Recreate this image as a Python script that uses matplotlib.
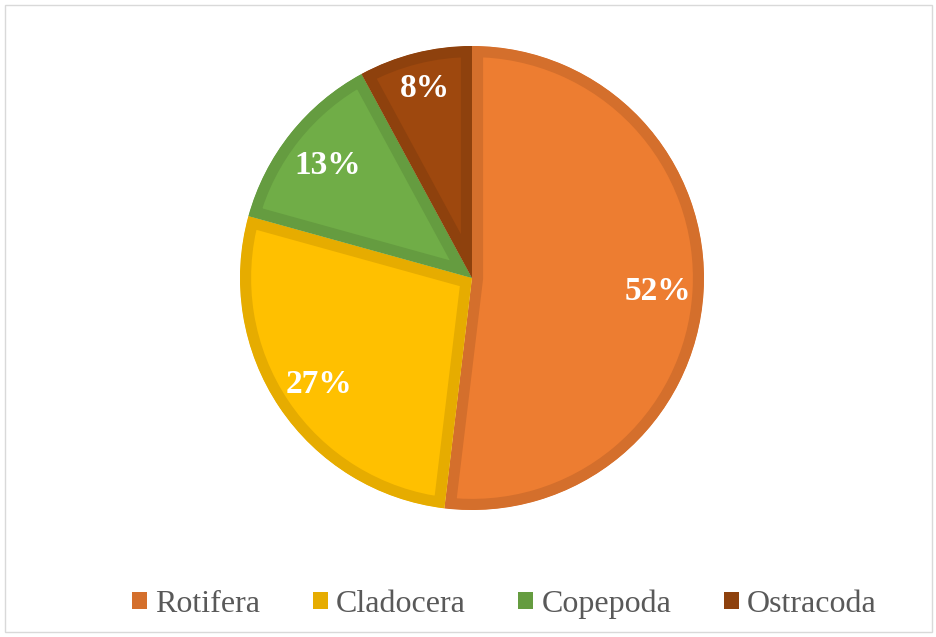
import matplotlib.pyplot as plt
from matplotlib.patches import Rectangle, Patch

# data
groups = ["Rotifera", "Cladocera", "Copepoda", "Ostracoda"]
shares = [51.9, 27.4, 12.8, 7.9]
fills = ["#ED7D31", "#FFC000", "#70AD47", "#9E480E"]
edges = ["#D46F2C", "#E6AC00", "#659C40", "#8E410D"]

plt.rcParams['font.family'] = ['Liberation Serif', 'DejaVu Serif']

fig = plt.figure(figsize=(9.37, 6.37), dpi=100)

# light gray frame round the chart area
fig.patches.append(Rectangle((5 / 937, 5 / 637), 927 / 937, 627 / 637,
                             transform=fig.transFigure, fill=False,
                             edgecolor="#D9D9D9", linewidth=1))

# pie axes: centre (472, 278) px, radius 232 px
cx, cy, r = 472, 278, 232
ax = fig.add_axes([(cx - r) / 937, 1 - (cy + r) / 637, 2 * r / 937, 2 * r / 637])

wedges, texts, autotexts = ax.pie(
    shares, colors=fills, startangle=90, counterclock=False,
    autopct="%.0f%%", pctdistance=0.8, radius=1,
    wedgeprops=dict(linewidth=0),
    textprops=dict(color="white", fontsize=24, fontweight="bold"))

ax.set_xlim(-1, 1)
ax.set_ylim(-1, 1)
ax.set_aspect("auto")
ax.axis("off")

# stroke drawn only on the inside of each slice (pie turns clipping off)
for w, ec in zip(wedges, edges):
    w.set_edgecolor(ec)
    w.set_linewidth(16)
    w.set_clip_on(True)
    w.set_clip_path(w)

# nudge the labels a touch lower, the small slice's label a bit further out
for i, t in enumerate(autotexts):
    x, y = t.get_position()
    if i == 3:
        x, y = x * 1.05, y * 1.07
    t.set_position((x + 0.005, y - 0.012))

handles = [Patch(facecolor=f, edgecolor="none") for f in edges]
leg = fig.legend(handles, groups, loc="center", ncol=4,
                 bbox_to_anchor=(0.5 + 36 / 937, 1 - 604 / 637),
                 frameon=False, fontsize=23,
                 handlelength=0.47, handleheight=0.47,
                 handletextpad=0.25, columnspacing=1.65)
for t in leg.get_texts():
    t.set_color("#595959")

fig.savefig("out.png", dpi=100)
